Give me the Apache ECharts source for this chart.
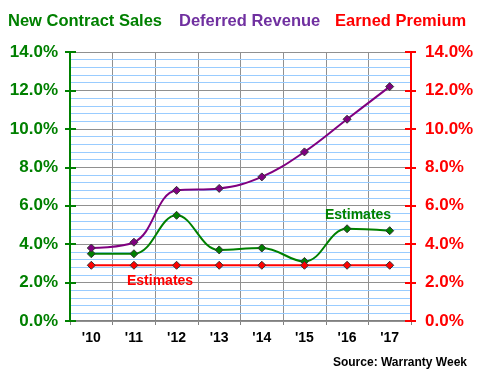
<!DOCTYPE html>
<html><head><meta charset="utf-8">
<script src="https://cdn.jsdelivr.net/npm/echarts@6/dist/echarts.min.js"></script>
<style>html,body{margin:0;padding:0;background:#fff}#c{width:480px;height:380px}</style>
</head><body><div id="c"></div>
<script>
var categories = ["'10","'11","'12","'13","'14","'15","'16","'17"];
var newContractSales = [3.5, 3.5, 5.5, 3.7, 3.8, 3.1, 4.8, 4.7];
var deferredRevenue = [3.8, 4.1, 6.8, 6.9, 7.5, 8.8, 10.5, 12.2];
var earnedPremium = [2.9, 2.9, 2.9, 2.9, 2.9, 2.9, 2.9, 2.9];
var seriesNames = ['New Contract Sales', 'Deferred Revenue', 'Earned Premium'];

var FONT = '"Liberation Sans", Arial, sans-serif';
var GREEN = '#008000', PURPLE = '#800080', RED = '#ff0000';
var chart = echarts.init(document.getElementById('c'), null, {renderer: 'canvas'});
function pct(v){ return v.toFixed(1) + '%'; }
function yAx(pos, color, inside, main){
  return {
    type: 'value', position: pos, min: 0, max: 14, interval: 2, splitNumber: 7,
    axisLine: {show: true, onZero: false, lineStyle: {color: color, width: 2}},
    axisTick: {show: true, inside: inside, length: inside ? 6 : 5, lineStyle: {color: color, width: 2}},
    axisLabel: {show: !inside, formatter: pct, color: color, fontFamily: FONT, fontWeight: 'bold', fontSize: 17, margin: pos === 'left' ? 12 : 14},
    splitLine: {show: main, lineStyle: {color: '#909090', width: 1}},
    minorTick: {show: false, splitNumber: 5},
    minorSplitLine: {show: main, lineStyle: {color: '#99ccff', width: 1}},
    z: 5
  };
}
function mk(name, data, color, smooth){
  return {
    name: name, type: 'line', data: data, smooth: smooth, yAxisIndex: 0,
    lineStyle: {color: color, width: 2},
    symbol: 'diamond', symbolSize: 8, showSymbol: true,
    itemStyle: {color: color, borderColor: '#333', borderWidth: 1},
    z: 10
  };
}
chart.setOption({
  animation: false,
  backgroundColor: '#fff',
  grid: {left: 70, right: 69, top: 52, bottom: 59, containLabel: false},
  xAxis: {
    type: 'category', data: categories, boundaryGap: true,
    axisLine: {show: true, lineStyle: {color: '#808080', width: 2}},
    axisTick: {show: true, length: 4, alignWithLabel: false, lineStyle: {color: '#808080'}},
    axisLabel: {color: '#000', fontFamily: FONT, fontWeight: 'bold', fontSize: 14, margin: 10},
    splitLine: {show: true, lineStyle: {color: '#909090', width: 1}}
  },
  yAxis: [yAx('left', GREEN, false, true), yAx('right', RED, false, false),
          yAx('left', GREEN, true, false), yAx('right', RED, true, false)],
  series: [mk(seriesNames[0], newContractSales, GREEN, 0.4),
           mk(seriesNames[1], deferredRevenue, PURPLE, 0.4),
           mk(seriesNames[2], earnedPremium, RED, false)],
  graphic: [
    {type: 'text', left: 8, top: 13, style: {text: seriesNames[0], fill: GREEN, font: 'bold 16.5px ' + FONT}},
    {type: 'text', left: 179, top: 13, style: {text: seriesNames[1], fill: '#7030a0', font: 'bold 16.5px ' + FONT}},
    {type: 'text', left: 335, top: 13, style: {text: seriesNames[2], fill: RED, font: 'bold 16.5px ' + FONT}},
    {type: 'text', left: 127, top: 274, style: {text: 'Estimates', fill: RED, font: 'bold 14px ' + FONT}, z: 20},
    {type: 'text', left: 325, top: 208, style: {text: 'Estimates', fill: GREEN, font: 'bold 14px ' + FONT}, z: 20},
    {type: 'text', right: 13, top: 357, style: {text: 'Source: Warranty Week', fill: '#000', font: 'bold 12px ' + FONT}}
  ]
});
</script></body></html>
